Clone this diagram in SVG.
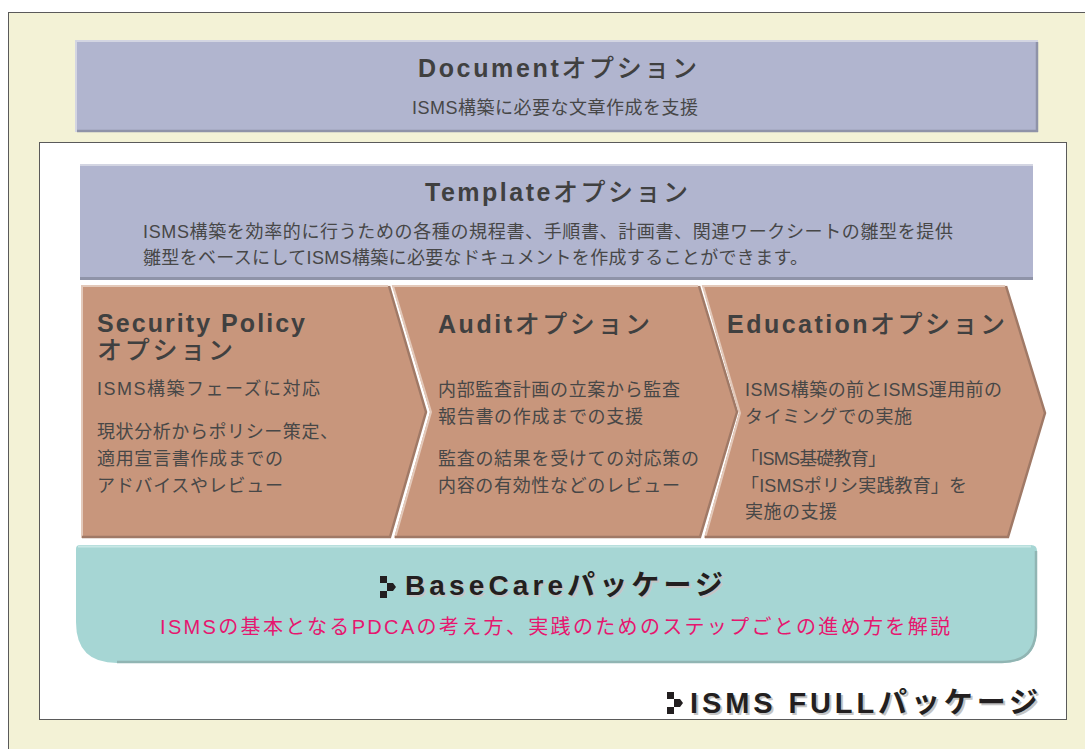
<svg xmlns="http://www.w3.org/2000/svg" width="1085" height="749" viewBox="0 0 1085 749">
<style>
.t{font-family:"Liberation Sans","Noto Sans CJK JP",sans-serif;}
.title{font-size:25px;font-weight:bold;fill:#404040;}
.kana{font-weight:500;}
.body{font-size:18px;fill:#474747;}
.pkg{font-size:28px;font-weight:bold;fill:#231f20;}
.pkgsh{font-size:28px;font-weight:bold;fill:#c4c4c4;}
.pink{font-size:20px;fill:#e5176f;}
.chev{fill:#c8967c;}
.hl{fill:none;stroke:#e3c9ba;stroke-width:2;}
.sh{fill:none;stroke:#a07966;stroke-width:2.5;}
</style>
<rect x="0" y="0" width="1085" height="749" fill="#ffffff"/>
<rect x="8.5" y="12.5" width="1090" height="750" fill="#f3f2d6" stroke="#5a5a5a" stroke-width="1"/>
<rect x="39.5" y="142.5" width="1027" height="577" fill="#ffffff" stroke="#5a5a5a" stroke-width="1"/>

<g id="document">
<rect x="75" y="40" width="963" height="92" fill="#b1b5cf"/>
<path d="M75,41 H1038 M76,40 V132" stroke="#d3d5e2" stroke-width="2" fill="none"/>
<path d="M77,131 H1038 M1037,42 V132" stroke="#8f93a8" stroke-width="2.5" fill="none"/>
<text class="t title" x="418" y="77" textLength="279" lengthAdjust="spacing">Document<tspan class="kana">オプション</tspan></text>
<text class="t body" x="412" y="114" textLength="286" lengthAdjust="spacing">ISMS構築に必要な文章作成を支援</text>
</g>

<g id="template">
<rect x="80" y="164" width="953" height="116" fill="#b1b5cf"/>
<path d="M80,165 H1033" stroke="#d3d5e2" stroke-width="2" fill="none"/>
<path d="M80,278.5 H1033" stroke="#8f93a8" stroke-width="3" fill="none"/>
<text class="t title" x="425" y="201" textLength="263" lengthAdjust="spacing">Template<tspan class="kana">オプション</tspan></text>
<text class="t body" x="143" y="238" textLength="810" lengthAdjust="spacing">ISMS構築を効率的に行うための各種の規程書、手順書、計画書、関連ワークシートの雛型を提供</text>
<text class="t body" x="143" y="264" textLength="665" lengthAdjust="spacing">雛型をベースにしてISMS構築に必要なドキュメントを作成することができます。</text>
</g>

<g id="security-policy">
<polygon class="chev" points="81,285 388,285 426,412 390,538 81,538"/>
<polyline class="hl" points="82,538 82,286 388,286"/>
<polyline class="sh" points="389,286 426,412 390,537 82,537"/>
<text class="t title" x="97" y="332" textLength="208" lengthAdjust="spacing">Security Policy</text>
<text class="t title kana" x="97" y="359" textLength="136" lengthAdjust="spacing">オプション</text>
<text class="t body" x="97" y="395" textLength="223" lengthAdjust="spacing">ISMS構築フェーズに対応</text>
<text class="t body" x="97" y="438" textLength="241" lengthAdjust="spacing">現状分析からポリシー策定、</text>
<text class="t body" x="97" y="465" textLength="186" lengthAdjust="spacing">適用宣言書作成までの</text>
<text class="t body" x="97" y="492" textLength="186" lengthAdjust="spacing">アドバイスやレビュー</text>
</g>

<g id="audit">
<polygon class="chev" points="392,285 698,285 737,412 700,538 394,538 430,412"/>
<polyline class="hl" points="395,538 431,412 393,286 698,286"/>
<polyline class="sh" points="699,286 737,412 700,537 395,537"/>
<text class="t title" x="438" y="333" textLength="212" lengthAdjust="spacing">Audit<tspan class="kana">オプション</tspan></text>
<text class="t body" x="438" y="396" textLength="242" lengthAdjust="spacing">内部監査計画の立案から監査</text>
<text class="t body" x="438" y="423" textLength="205" lengthAdjust="spacing">報告書の作成までの支援</text>
<text class="t body" x="438" y="465" textLength="261" lengthAdjust="spacing">監査の結果を受けての対応策の</text>
<text class="t body" x="438" y="492" textLength="242" lengthAdjust="spacing">内容の有効性などのレビュー</text>
</g>

<g id="education">
<polygon class="chev" points="702,285 1005,285 1045,413 1008,538 704,538 739,413"/>
<polyline class="hl" points="705,538 740,413 703,286 1005,286"/>
<polyline class="sh" points="1006,286 1045,413 1008,537 705,537"/>
<text class="t title" x="727" y="333" textLength="278" lengthAdjust="spacing">Education<tspan class="kana">オプション</tspan></text>
<text class="t body" x="745" y="396" textLength="257" lengthAdjust="spacing">ISMS構築の前とISMS運用前の</text>
<text class="t body" x="745" y="423" textLength="167" lengthAdjust="spacing">タイミングでの実施</text>
<text class="t body" x="741" y="465" textLength="145" lengthAdjust="spacing">「ISMS基礎教育」</text>
<text class="t body" x="741" y="492" textLength="226" lengthAdjust="spacing">「ISMSポリシ実践教育」を</text>
<text class="t body" x="745" y="518" textLength="92" lengthAdjust="spacing">実施の支援</text>
</g>

<g id="basecare">
<path d="M80,545 H1031 Q1037,545 1037,551 V628 Q1037,663 1002,663 H117 Q76,663 76,622 V549 Q76,545 80,545 Z" fill="#a6d6d4"/>
<path d="M78,546.5 H1031" stroke="#c9e8e6" stroke-width="2" fill="none"/>
<path d="M1036,551 V628 Q1036,662 1002,662 H117" stroke="#91b5b3" stroke-width="2.5" fill="none"/>
<g fill="#231f20">
<rect x="380" y="576" width="7" height="7"/>
<rect x="380" y="591" width="7" height="7"/>
<path d="M387,583 H393 L396,587 L393,591 H387 Z"/>
</g>
<text class="t pkgsh" x="407" y="597" textLength="318" lengthAdjust="spacing">BaseCareパッケージ</text>
<text class="t pkg" x="405" y="595" textLength="318" lengthAdjust="spacing">BaseCareパッケージ</text>
<text class="t pink" x="160" y="634" textLength="790" lengthAdjust="spacing">ISMSの基本となるPDCAの考え方、実践のためのステップごとの進め方を解説</text>
</g>

<g id="isms-full">
<g fill="#231f20">
<rect x="667" y="692" width="7" height="7"/>
<rect x="667" y="707" width="7" height="7"/>
<path d="M674,699 H680 L683,703 L680,707 H674 Z"/>
</g>
<text class="t pkgsh" x="692" y="715" textLength="348" lengthAdjust="spacing" style="font-size:29px">ISMS FULLパッケージ</text>
<text class="t pkg" x="690" y="713" textLength="348" lengthAdjust="spacing" style="font-size:29px">ISMS FULLパッケージ</text>
</g>

<g id="connectors"></g>
</svg>
